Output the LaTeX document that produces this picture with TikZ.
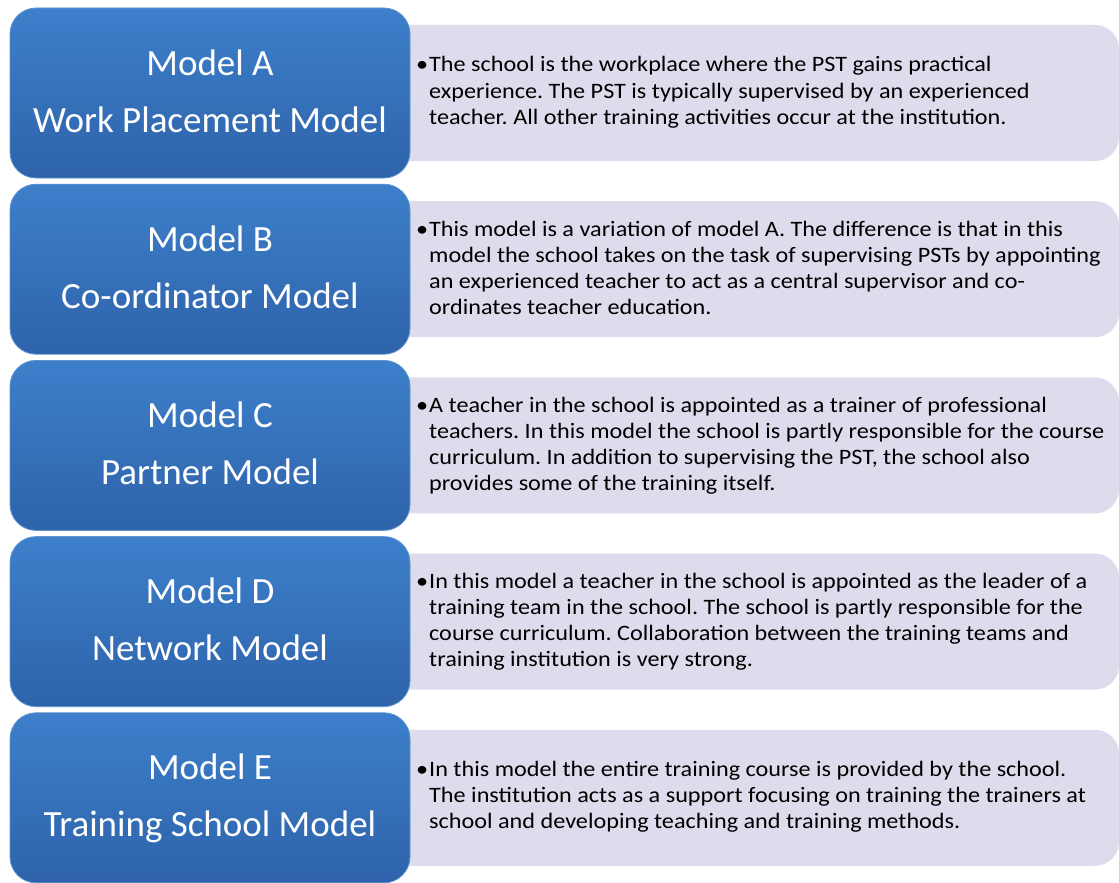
\documentclass[tikz,border=0pt]{standalone}
\usepackage{fontspec}
\usepackage{graphicx}
\setmainfont{Carlito}
\frenchspacing
\definecolor{bluetop}{HTML}{3D7FCB}
\definecolor{bluebot}{HTML}{2E63AA}
\definecolor{blueedge}{HTML}{5E93D2}
\definecolor{panel}{HTML}{DDDCEC}
\newcommand{\bodylines}[1]{\scalebox{1.1}[1]{\fontsize{22}{26}\selectfont\frenchspacing\begin{tabular}[t]{@{}l@{}}\llap{\textbullet\hspace{1pt}}#1\end{tabular}}}
\begin{document}
\begin{tikzpicture}[x=1pt,y=-1pt,
  modelbox/.style={rounded corners=26pt, top color=bluetop, bottom color=bluebot, draw=blueedge, line width=0.8pt},
  panelbox/.style={rounded corners=24pt, fill=panel, draw=none},
  titletext/.style={text=white, font=\fontsize{37}{42}\selectfont, inner sep=0pt, anchor=base},
  bodytext/.style={text=black, inner sep=0pt, anchor=base west}]
\useasboundingbox (0,0) rectangle (1119,883);
\fill[white] (0,0) rectangle (1119,883);
\foreach \i/\ttl/\sub/\txt in {
 0/Model A/Work Placement Model/{The school is the workplace where the PST gains practical\\experience. The PST is typically supervised by an experienced\\teacher. All other training activities occur at the institution.},
 1/Model B/Co-ordinator Model/{This model is a variation of model A. The difference is that in this\\model the school takes on the task of supervising PSTs by appointing\\an experienced teacher to act as a central supervisor and co-\\ordinates teacher education.},
 2/Model C/Partner Model/{A teacher in the school is appointed as a trainer of professional\\teachers. In this model the school is partly responsible for the course\\curriculum. In addition to supervising the PST, the school also\\provides some of the training itself.},
 3/Model D/Network Model/{In this model a teacher in the school is appointed as the leader of a\\training team in the school. The school is partly responsible for the\\course curriculum. Collaboration between the training teams and\\training institution is very strong.},
 4/Model E/Training School Model/{In this model the entire training course is provided by the school.\\The institution acts as a support focusing on training the trainers at\\school and developing teaching and training methods.}}
{
  \pgfmathsetmacro{\t}{8+176.2*\i}
  \path[panelbox] (385,\t+17) rectangle (1119,\t+153);
  \pgfmathsetmacro{\ty}{\i==1 || \i==2 || \i==3 ? \t+52 : \t+64}
  \node[bodytext] (desc\i) at (429,\ty) {\bodylines{\txt}};
  \path[modelbox] (10,\t) rectangle (410,\t+170);
  \node[titletext] (title\i) at (210,\t+67) {\ttl};
  \node[titletext] (sub\i) at (210,\t+124) {\sub};
}
\end{tikzpicture}
\end{document}
